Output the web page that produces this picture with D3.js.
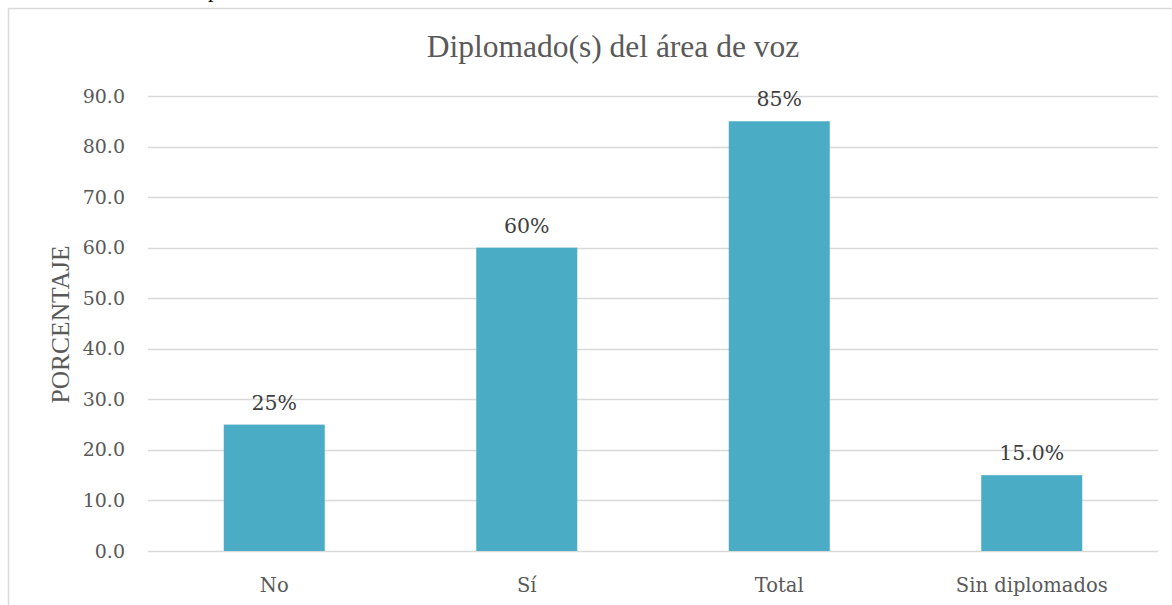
<!DOCTYPE html>
<html><head><meta charset="utf-8">
<script src="https://cdn.jsdelivr.net/npm/d3@7"></script>
<style>body{margin:0;background:#fff}svg{display:block}</style>
</head><body>
<svg id="c" width="1172" height="605"></svg>
<script>
const categories = ["No", "Sí", "Total", "Sin diplomados"];
const values = [25, 60, 85, 15];
const valueLabels = ["25%", "60%", "85%", "15.0%"];
const yTicks = [0, 10, 20, 30, 40, 50, 60, 70, 80, 90];
const title = "Diplomado(s) del área de voz";
const yTitle = "PORCENTAJE";

const svg = d3.select("#c");
const W = 1172, H = 605;
const m = {left: 148, right: 14, top: 96, bottom: 54};
const serif = "'Liberation Serif', serif";
const tickFont = "'DejaVu Serif', serif";

// cropped document text fragment at the very top
svg.append("text").attr("x", 208).attr("y", -3).attr("font-family", serif)
  .attr("font-size", 22).attr("fill", "#000").text("p");

// chart border (left + top visible)
svg.append("path").attr("d", `M8.5,${H} L8.5,8.5 L${W},8.5`)
  .attr("fill", "none").attr("stroke", "#d9d9d9").attr("stroke-width", 1.5);

const x = d3.scaleBand().domain(categories).range([m.left, W - m.right])
  .paddingInner(0.6).paddingOuter(0.3);
const y = d3.scaleLinear().domain([0, 90]).range([H - m.bottom, m.top]);

// gridlines
svg.append("g").selectAll("line").data(yTicks).join("line")
  .attr("x1", m.left).attr("x2", W - m.right)
  .attr("y1", d => Math.round(y(d)) + 0.5).attr("y2", d => Math.round(y(d)) + 0.5)
  .attr("stroke", "#d9d9d9").attr("stroke-width", 1.3);

// y axis
const ya = svg.append("g").attr("transform", `translate(${m.left},0)`)
  .call(d3.axisLeft(y).tickValues(yTicks).tickFormat(d3.format(".1f")).tickSize(0).tickPadding(23));
ya.select(".domain").remove();
ya.selectAll("text").attr("font-family", tickFont).attr("font-size", 19).attr("fill", "#595959");

// x axis
const xa = svg.append("g").attr("transform", `translate(0,${H - m.bottom})`)
  .call(d3.axisBottom(x).tickSize(0).tickPadding(0));
xa.select(".domain").remove();
xa.selectAll("text").attr("dy", null).attr("y", 41)
  .attr("font-family", tickFont).attr("font-size", 19.5).attr("fill", "#595959");

// bars
svg.append("g").selectAll("rect").data(values).join("rect")
  .attr("x", (d, i) => x(categories[i])).attr("width", x.bandwidth())
  .attr("y", d => y(d)).attr("height", d => y(0) - y(d))
  .attr("fill", "#4BACC6");

// data labels
svg.append("g").selectAll("text").data(values).join("text")
  .attr("x", (d, i) => x(categories[i]) + x.bandwidth() / 2)
  .attr("y", d => y(d) - 15)
  .attr("text-anchor", "middle").attr("font-family", tickFont).attr("font-size", 20.5)
  .attr("fill", "#404040").text((d, i) => valueLabels[i]);

// title
svg.append("text").attr("x", 613).attr("y", 57).attr("text-anchor", "middle")
  .attr("font-family", serif).attr("font-size", 31.5).attr("fill", "#595959").text(title);

// y title
svg.append("text").attr("transform", `translate(69,${(y(0) + y(90)) / 2 + 1}) rotate(-90)`)
  .attr("text-anchor", "middle").attr("font-family", serif).attr("font-size", 25.5)
  .attr("fill", "#595959").text(yTitle);
</script>
</body></html>
